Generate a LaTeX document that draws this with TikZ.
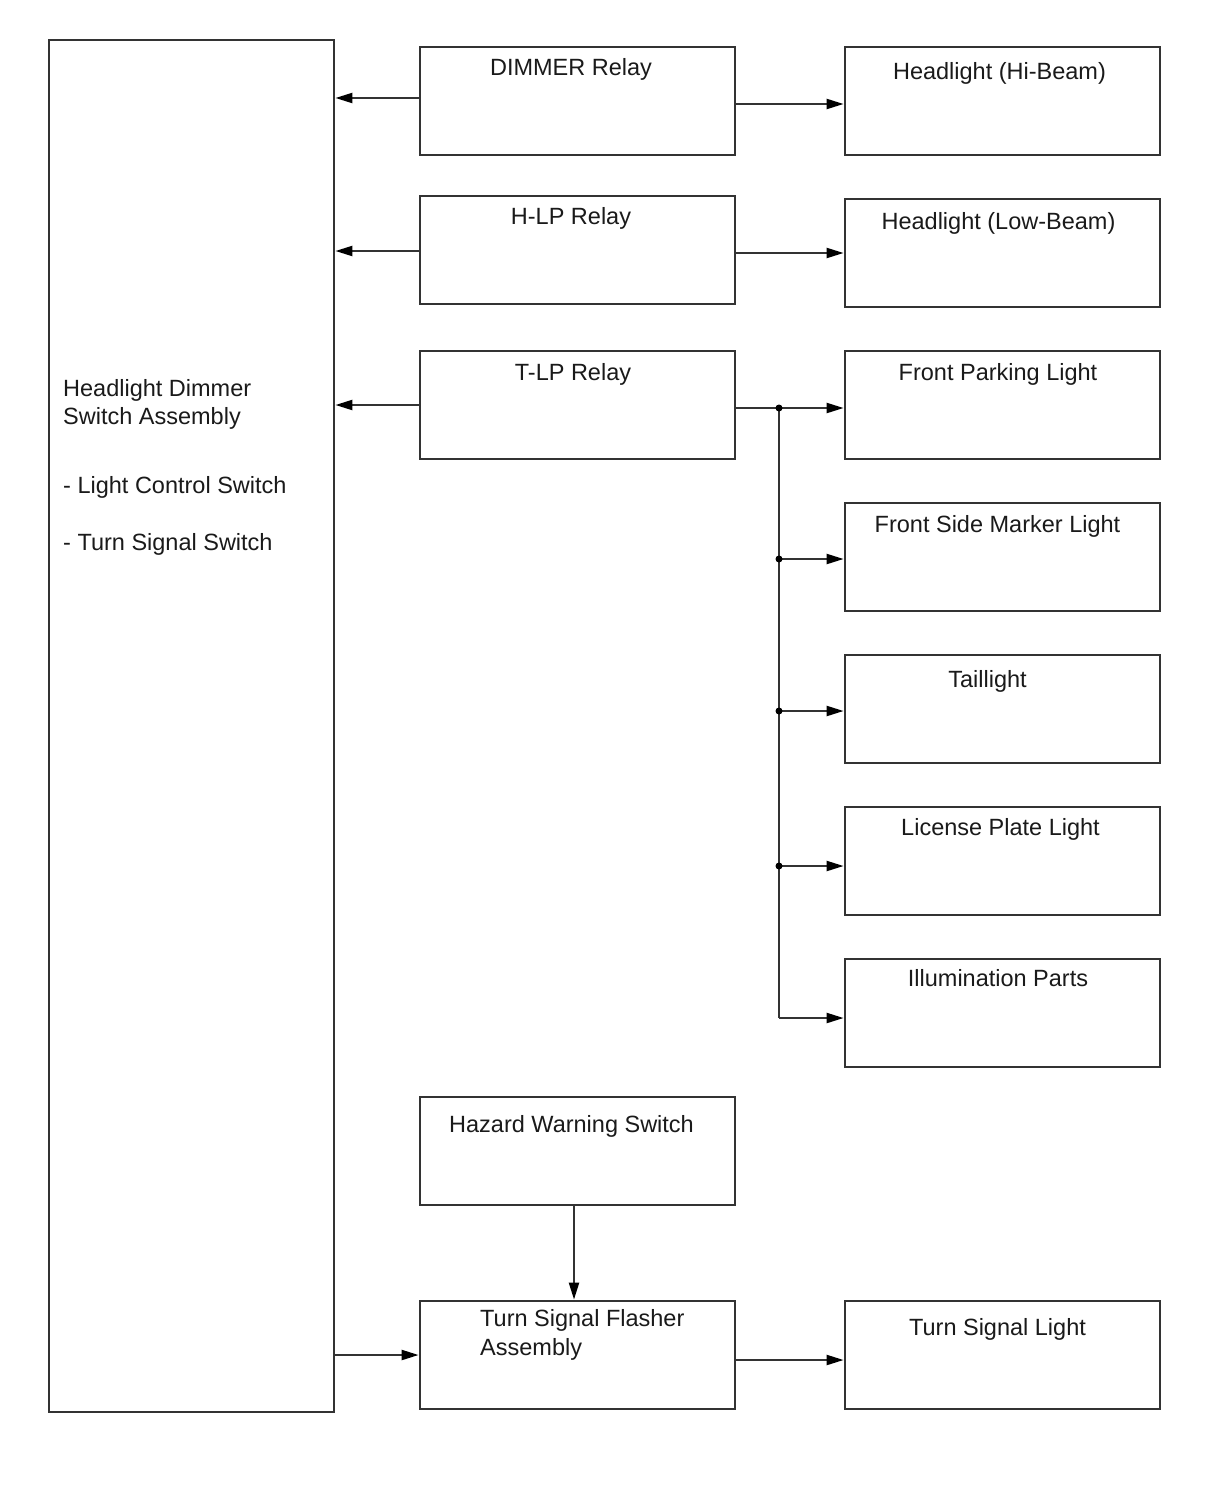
\documentclass[tikz,border=0pt]{standalone}
\usepackage{fontspec}
\setmainfont{Liberation Sans}
\usetikzlibrary{arrows.meta}
\definecolor{boxline}{HTML}{333333}
\definecolor{txt}{HTML}{1A1A1A}
\begin{document}
\begin{tikzpicture}[x=1pt,y=-1pt,
  box/.style={draw=boxline,line width=2.8pt,inner sep=0pt,minimum width=315pt,minimum height=108pt},
  lbl/.style={anchor=base,inner sep=0pt,text=txt,font=\fontsize{23.5}{28}\selectfont},
  lbll/.style={lbl,anchor=base west},
  arr/.style={draw=boxline,line width=2.2pt,-{Triangle[length=17pt,width=10pt,fill=black,color=black]}},
  wire/.style={draw=boxline,line width=2.2pt},
  dot/.style={circle,fill=black,inner sep=0pt,minimum size=7pt}]
\useasboundingbox (0,0) rectangle (1210,1498);
\fill[white] (0,0) rectangle (1210,1498);
% boxes
\node[box,minimum width=285pt,minimum height=1372pt] (big) at (191.5,726) {};
\node[box] (dimmer) at (577.5,101) {};
\node[box] (hlp) at (577.5,250) {};
\node[box] (tlp) at (577.5,405) {};
\node[box] (hazard) at (577.5,1151) {};
\node[box] (flasher) at (577.5,1355) {};
\node[box] (hibeam) at (1002.5,101) {};
\node[box] (lowbeam) at (1002.5,253) {};
\node[box] (fpark) at (1002.5,405) {};
\node[box] (fside) at (1002.5,557) {};
\node[box] (tail) at (1002.5,709) {};
\node[box] (lic) at (1002.5,861) {};
\node[box] (illum) at (1002.5,1013) {};
\node[box] (tsl) at (1002.5,1355) {};
% labels
\node[lbll] (tbig1) at (63,396) {Headlight Dimmer};
\node[lbll] (tbig2) at (63,424) {Switch Assembly};
\node[lbll] (tbig3) at (63,493) {- Light Control Switch};
\node[lbll] (tbig4) at (63,550) {- Turn Signal Switch};
\node[lbl] (tdimmer) at (571,76) {DIMMER Relay};
\node[lbl] (thlp) at (571,224) {H-LP Relay};
\node[lbl] (ttlp) at (573,380) {T-LP Relay};
\node[lbl] (thazard) at (571.5,1132) {Hazard Warning Switch};
\node[lbll] (tflash1) at (480,1326) {Turn Signal Flasher};
\node[lbll] (tflash2) at (480,1355) {Assembly};
\node[lbl] (thibeam) at (999.5,80) {Headlight (Hi-Beam)};
\node[lbl] (tlowbeam) at (998.5,229) {Headlight (Low-Beam)};
\node[lbl] (tfpark) at (998,380) {Front Parking Light};
\node[lbl] (tfside) at (997.5,532) {Front Side Marker Light};
\node[lbl] (ttail) at (987.5,687) {Taillight};
\node[lbl] (tlic) at (1000.5,835) {License Plate Light};
\node[lbl] (tillum) at (998,986) {Illumination Parts};
\node[lbl] (ttsl) at (997.5,1335) {Turn Signal Light};
% connectors
\draw[arr] (dimmer.west |- 0,98) -- (big.east |- 0,98);
\draw[arr] (dimmer.east |- 0,104) -- (hibeam.west |- 0,104);
\draw[arr] (hlp.west |- 0,251) -- (big.east |- 0,251);
\draw[arr] (hlp.east |- 0,253) -- (lowbeam.west |- 0,253);
\draw[arr] (tlp.west |- 0,405) -- (big.east |- 0,405);
\coordinate (b0) at (779,408);
\coordinate (b1) at (779,559);
\coordinate (b2) at (779,711);
\coordinate (b3) at (779,866);
\coordinate (b4) at (779,1018);
\draw[arr] (tlp.east |- b0) -- (fpark.west |- b0);
\draw[wire] (b0) -- (b4);
\draw[arr] (b1) -- (fside.west |- b1);
\draw[arr] (b2) -- (tail.west |- b2);
\draw[arr] (b3) -- (lic.west |- b3);
\draw[arr] (b4) -- (illum.west |- b4);
\node[dot] (d0) at (b0) {};
\node[dot] (d1) at (b1) {};
\node[dot] (d2) at (b2) {};
\node[dot] (d3) at (b3) {};
\draw[arr] (hazard.south -| 574,0) -- (flasher.north -| 574,0);
\draw[arr] (big.east |- 0,1355) -- (flasher.west |- 0,1355);
\draw[arr] (flasher.east |- 0,1360) -- (tsl.west |- 0,1360);
\end{tikzpicture}
\end{document}
